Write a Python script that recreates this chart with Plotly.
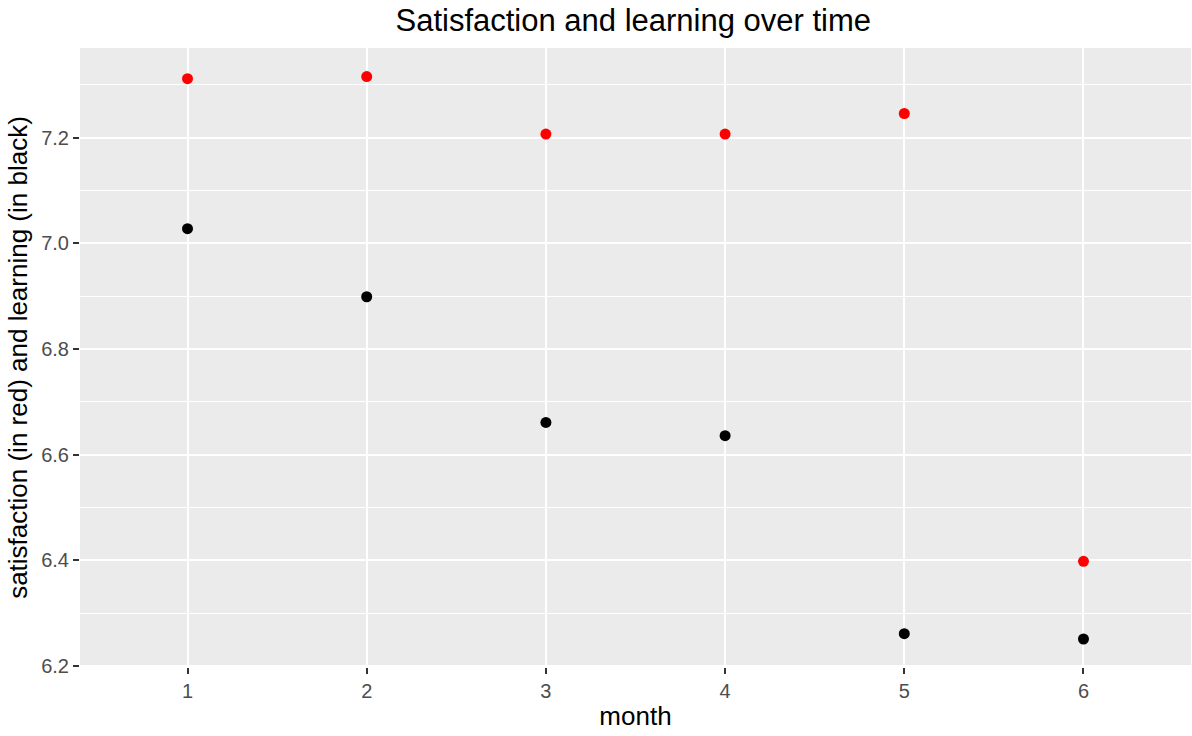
import plotly.graph_objects as go

months = [1, 2, 3, 4, 5, 6]
satisfaction = [7.312, 7.316, 7.207, 7.207, 7.246, 6.398]
learning = [7.028, 6.899, 6.661, 6.636, 6.261, 6.251]
y_ticks = [6.2, 6.4, 6.6, 6.8, 7.0, 7.2]
y_tick_labels = ["6.2", "6.4", "6.6", "6.8", "7.0", "7.2"]
y_minor = [6.3, 6.5, 6.7, 6.9, 7.1, 7.3]

fig = go.Figure()
fig.add_trace(go.Scatter(x=months, y=satisfaction, mode="markers",
                         marker=dict(color="#FF0000", size=11), showlegend=False))
fig.add_trace(go.Scatter(x=months, y=learning, mode="markers",
                         marker=dict(color="#000000", size=11), showlegend=False))

fig.update_layout(
    width=1192, height=736,
    margin=dict(l=80, r=1, t=48, b=69),
    paper_bgcolor="white",
    plot_bgcolor="#EBEBEB",
    font=dict(family="Liberation Sans, Arial, sans-serif"),
    title=dict(text="Satisfaction and learning over time", x=0.498, xanchor="center",
               xref="paper", y=1 - 20 / 736, yref="container", yanchor="middle",
               font=dict(size=31, color="black")),
)
fig.update_xaxes(
    range=[0.4, 6.6], tickvals=months, ticktext=[str(m) for m in months],
    showgrid=True, gridcolor="white", gridwidth=2, zeroline=False,
    ticks="outside", ticklen=6, tickcolor="#333333", tickwidth=1.5,
    tickfont=dict(size=20, color="#4D4D4D"),
    title=dict(text="month", font=dict(size=26, color="black"), standoff=5),
)
fig.update_yaxes(
    range=[6.198, 7.370], tickvals=y_ticks, ticktext=y_tick_labels,
    showgrid=True, gridcolor="white", gridwidth=2, zeroline=False,
    minor=dict(tickvals=y_minor, showgrid=True,
               gridcolor="white", gridwidth=1.1, ticks=""),
    ticks="outside", ticklen=6, tickcolor="#333333", tickwidth=1.5,
    tickfont=dict(size=20, color="#4D4D4D"),
    title=dict(text="satisfaction (in red) and learning (in black)",
               font=dict(size=26, color="black"), standoff=6),
)

fig.write_html("out.html", config={"displayModeBar": False},
               post_script="document.body.style.margin='0';")
